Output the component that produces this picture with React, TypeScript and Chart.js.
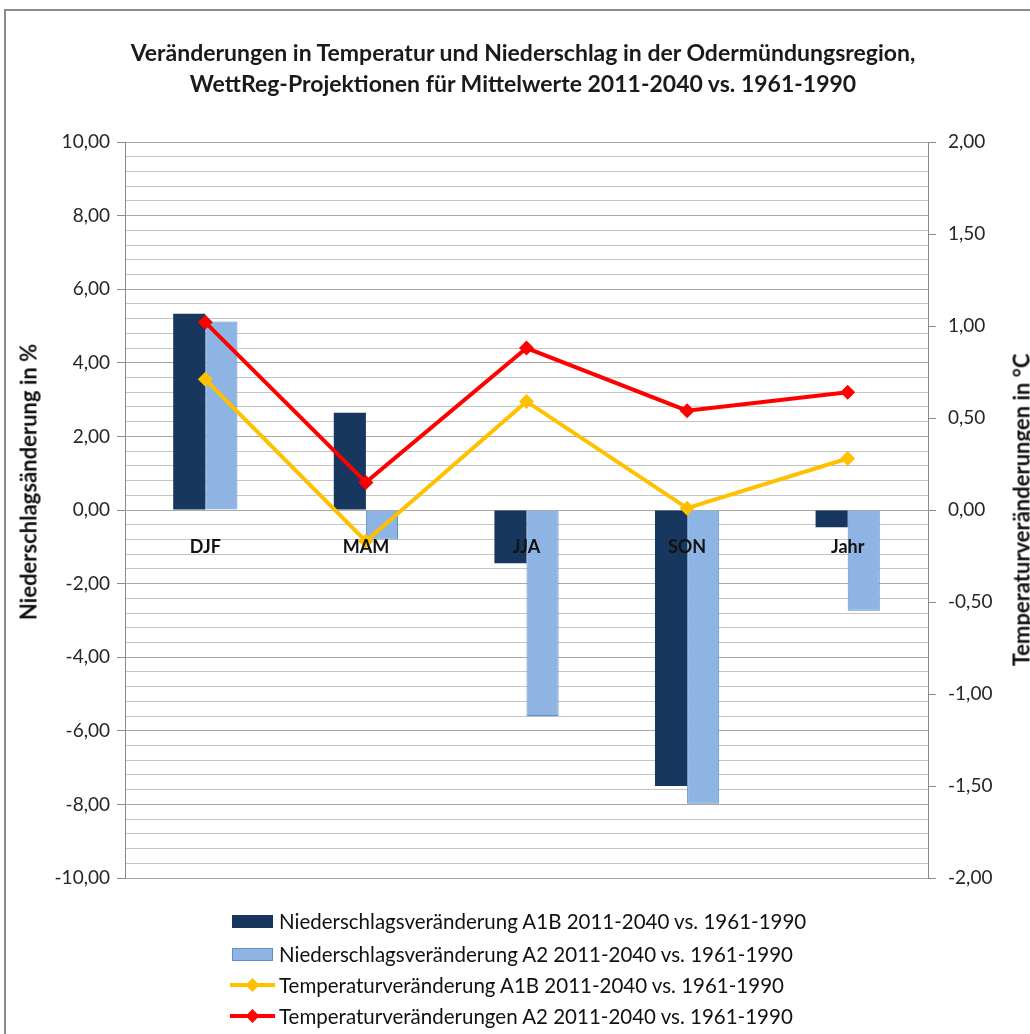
import React, { useEffect, useRef } from 'react';
import { Chart, registerables } from 'chart.js';

Chart.register(...registerables);

// ---- data ----
const categories = ['DJF', 'MAM', 'JJA', 'SON', 'Jahr'];
const precipA1B = [5.33, 2.64, -1.45, -7.5, -0.47];
const precipA2 = [5.12, -0.8, -5.6, -7.98, -2.74];
const tempA1B = [0.71, -0.17, 0.59, 0.01, 0.28];
const tempA2 = [1.02, 0.15, 0.88, 0.54, 0.64];
const seriesLabels = [
  'Niederschlagsveränderung A1B 2011-2040 vs. 1961-1990',
  'Niederschlagsveränderung A2 2011-2040 vs. 1961-1990',
  'Temperaturveränderung A1B 2011-2040 vs. 1961-1990',
  'Temperaturveränderungen A2 2011-2040 vs. 1961-1990',
];
const titleLines = [
  'Veränderungen in Temperatur und Niederschlag in der Odermündungsregion,',
  'WettReg-Projektionen für Mittelwerte 2011-2040 vs. 1961-1990',
];
const leftAxisTitle = 'Niederschlagsänderung in %';
const rightAxisTitle = 'Temperaturveränderungen in °C';
const leftRange = [-10, 10];
const leftMinorStep = 0.4;
const leftLabelStep = 2;
const rightRange = [-2, 2];
const rightStep = 0.5;

const colors = {
  dark: '#17375E',
  light: '#8DB4E2',
  lightBorder: '#5F8FCB',
  yellow: '#FFC000',
  red: '#FF0000',
};

const FONT = 'Lato, "Open Sans", sans-serif';

const fmt = (v: number) => v.toFixed(2).replace('.', ',');
const isMajor = (v: number) => Math.abs(v / leftLabelStep - Math.round(v / leftLabelStep)) < 1e-6;

const categoryLabelPlugin = {
  id: 'catLabels',
  afterDatasetsDraw(chart: any) {
    const { ctx } = chart;
    const x = chart.scales.x;
    const y = chart.scales.y;
    const y0 = y.getPixelForValue(0);
    ctx.save();
    ctx.font = `bold 18px ${FONT}`;
    ctx.fillStyle = '#111';
    ctx.textAlign = 'center';
    ctx.textBaseline = 'middle';
    (chart.data.labels as string[]).forEach((l, i) => {
      ctx.fillText(l, x.getPixelForValue(i), y0 + 37);
    });
    ctx.restore();
  },
};

function LegendSymbol({ kind, color, border }: { kind: string; color: string; border?: string }) {
  if (kind === 'bar') {
    return (
      <div style={{ width: 45, height: 22, display: 'flex', alignItems: 'center', justifyContent: 'center' }}>
        <div style={{ width: 41, height: 13, background: color, border: `1px solid ${border || color}`, boxSizing: 'border-box' }} />
      </div>
    );
  }
  return (
    <svg width={45} height={22} style={{ display: 'block' }}>
      <line x1={0} y1={11} x2={45} y2={11} stroke={color} strokeWidth={4} />
      <polygon points="22.5,4 29.5,11 22.5,18 15.5,11" fill={color} />
    </svg>
  );
}

export default function App() {
  const ref = useRef<HTMLCanvasElement | null>(null);

  useEffect(() => {
    if (!ref.current) return;
    const chart = new Chart(ref.current, {
      type: 'bar',
      data: {
        labels: categories,
        datasets: [
          {
            type: 'line',
            label: seriesLabels[2],
            data: tempA1B,
            yAxisID: 'y1',
            borderColor: colors.yellow,
            backgroundColor: colors.yellow,
            borderWidth: 4,
            pointStyle: 'rectRot',
            pointRadius: 7.5,
            pointBorderWidth: 0,
            tension: 0,
            order: 0,
          } as any,
          {
            type: 'line',
            label: seriesLabels[3],
            data: tempA2,
            yAxisID: 'y1',
            borderColor: colors.red,
            backgroundColor: colors.red,
            borderWidth: 4,
            pointStyle: 'rectRot',
            pointRadius: 7.5,
            pointBorderWidth: 0,
            tension: 0,
            order: 0,
          } as any,
          {
            type: 'bar',
            label: seriesLabels[0],
            data: precipA1B,
            yAxisID: 'y',
            backgroundColor: colors.dark,
            borderColor: colors.dark,
            borderWidth: 0,
            categoryPercentage: 0.4,
            barPercentage: 1.0,
            order: 1,
          } as any,
          {
            type: 'bar',
            label: seriesLabels[1],
            data: precipA2,
            yAxisID: 'y',
            backgroundColor: colors.light,
            borderColor: colors.lightBorder,
            borderWidth: 1,
            categoryPercentage: 0.4,
            barPercentage: 1.0,
            order: 1,
          } as any,
        ],
      },
      options: {
        responsive: false,
        animation: false,
        devicePixelRatio: 1,
        layout: { padding: { top: 142, bottom: 156, left: 0, right: 0 } },
        plugins: {
          legend: { display: false },
          title: { display: false },
          tooltip: { enabled: false },
        },
        scales: {
          x: {
            type: 'category',
            display: false,
            offset: true,
            grid: { display: false },
          },
          y: {
            position: 'left',
            min: leftRange[0],
            max: leftRange[1],
            ticks: {
              stepSize: leftMinorStep,
              autoSkip: false,
              callback: (v: any) => (isMajor(Number(v)) ? fmt(Number(v)) : ''),
              font: { family: FONT, size: 19 },
              color: '#262626',
              padding: 7,
            },
            grid: {
              color: (c: any) => (c.tick && isMajor(c.tick.value) ? '#a8a8a8' : '#c4c4c4'),
              lineWidth: 1,
              tickLength: 8,
              tickColor: (c: any) => (c.tick && isMajor(c.tick.value) ? '#8a8a8a' : 'rgba(0,0,0,0)'),
            },
            border: { color: '#8a8a8a', width: 1 },
            afterFit: (s: any) => {
              s.width = 125;
            },
          },
          y1: {
            position: 'right',
            min: rightRange[0],
            max: rightRange[1],
            ticks: {
              stepSize: rightStep,
              autoSkip: false,
              callback: (v: any) => fmt(Number(v)),
              font: { family: FONT, size: 19 },
              color: '#262626',
              padding: 12,
            },
            grid: {
              drawOnChartArea: false,
              tickLength: 8,
              tickColor: '#8a8a8a',
            },
            border: { color: '#8a8a8a', width: 1 },
            afterFit: (s: any) => {
              s.width = 102;
            },
          },
        },
      } as any,
      plugins: [categoryLabelPlugin],
    });
    return () => chart.destroy();
  }, []);

  const legendItems = [
    { kind: 'bar', color: colors.dark, border: colors.dark },
    { kind: 'bar', color: colors.light, border: colors.lightBorder },
    { kind: 'line', color: colors.yellow },
    { kind: 'line', color: colors.red },
  ];
  const legendY = [921, 954, 985, 1016];

  return (
    <div style={{ position: 'absolute', left: 0, top: 0, width: 1030, height: 1034, overflow: 'hidden', background: '#fff', fontFamily: FONT }}>
      <div style={{ position: 'absolute', left: 4, top: 9, width: 1100, height: 1100, border: '2px solid #8c8c8c' }} />
      <canvas ref={ref} width={1030} height={1034} style={{ position: 'absolute', left: 0, top: 0, display: 'block' }} />
      {titleLines.map((t, i) => (
        <div
          key={i}
          style={{
            position: 'absolute',
            left: 523,
            top: 52 + i * 31,
            transform: 'translate(-50%, -50%)',
            whiteSpace: 'nowrap',
            fontWeight: 'bold',
            fontSize: 23,
            color: '#1a1a1a',
          }}
        >
          {t}
        </div>
      ))}
      <div
        style={{
          position: 'absolute',
          left: 28,
          top: 482,
          transform: 'translate(-50%, -50%) rotate(-90deg)',
          whiteSpace: 'nowrap',
          fontWeight: 'bold',
          fontSize: 22,
          color: '#111',
        }}
      >
        {leftAxisTitle}
      </div>
      <div
        style={{
          position: 'absolute',
          left: 1021,
          top: 510,
          transform: 'translate(-50%, -50%) rotate(-90deg)',
          whiteSpace: 'nowrap',
          fontWeight: 'bold',
          fontSize: 22,
          color: '#111',
        }}
      >
        {rightAxisTitle}
      </div>
      {legendItems.map((it, i) => (
        <div
          key={i}
          style={{
            position: 'absolute',
            left: 230,
            top: legendY[i],
            transform: 'translateY(-50%)',
            display: 'flex',
            alignItems: 'center',
            whiteSpace: 'nowrap',
            fontSize: 20.5,
            color: '#111',
          }}
        >
          <LegendSymbol kind={it.kind} color={it.color} border={it.border} />
          <span style={{ marginLeft: 4 }}>{seriesLabels[i]}</span>
        </div>
      ))}
    </div>
  );
}
